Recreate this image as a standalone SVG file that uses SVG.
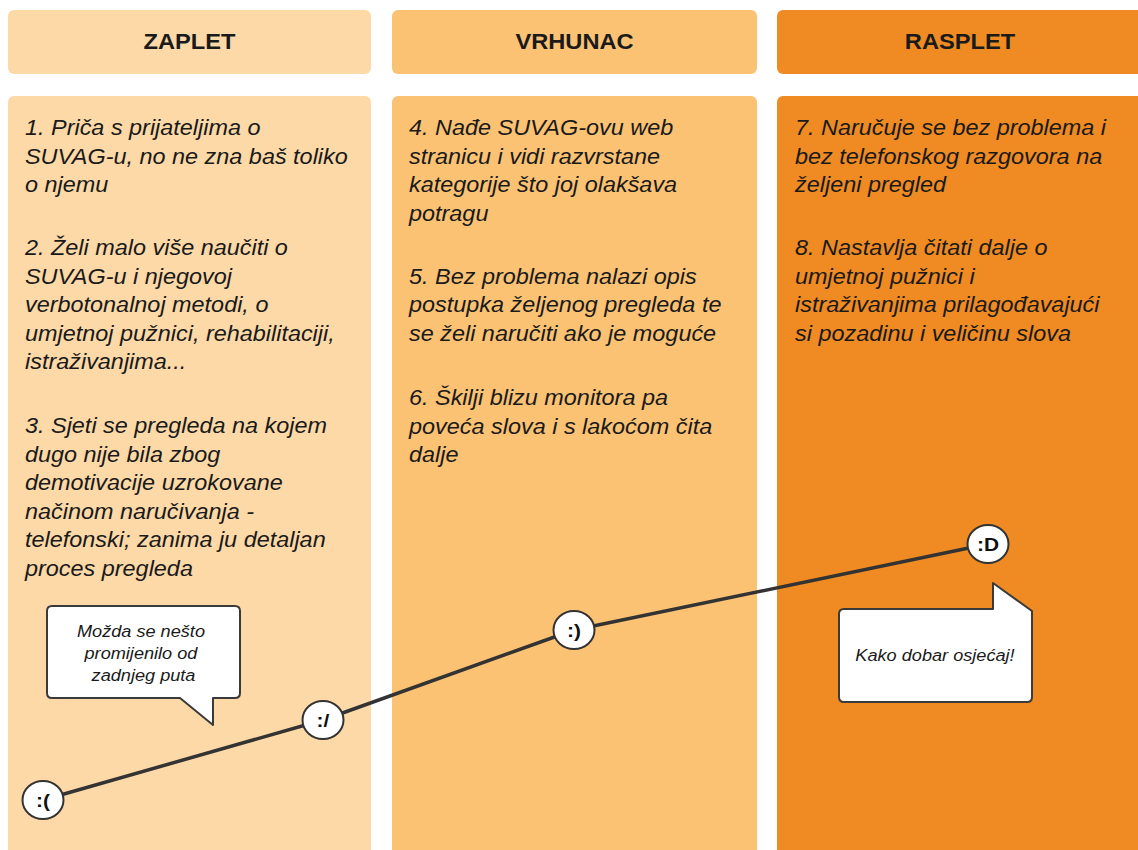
<svg xmlns="http://www.w3.org/2000/svg" width="1138" height="850" viewBox="0 0 1138 850">
<defs>
<style>
.c1{fill:#FDD9A7}
.c2{fill:#FBC274}
.c3{fill:#EF8B22}
.hd{font-family:"Liberation Sans",Arial,sans-serif;font-weight:bold;font-size:21.5px;fill:#1a1a1a;text-anchor:middle}
.bt{font-family:"Liberation Sans",Arial,sans-serif;font-style:italic;font-size:21.3px;fill:#1a1a1a}
.bb{fill:#fff;stroke:#3a3a3a;stroke-width:2;stroke-linejoin:round}
.btx{font-family:"Liberation Sans",Arial,sans-serif;font-style:italic;font-size:16.5px;fill:#1a1a1a;text-anchor:middle}
.em{fill:#fff;stroke:#333;stroke-width:2}
.emt{font-family:"Liberation Sans",Arial,sans-serif;font-weight:bold;font-size:19px;fill:#111;text-anchor:middle}
.ln{fill:none;stroke:#333;stroke-width:3.5;stroke-linejoin:round}
</style>
</defs>
<rect width="1138" height="850" fill="#fff"/>

<g id="header-zaplet">
<rect class="c1" x="8" y="10" width="363" height="64" rx="6"/>
<g transform="translate(189.5 49) scale(1.1 1)"><text class="hd" x="0" y="0">ZAPLET</text></g>
</g>
<g id="header-vrhunac">
<rect class="c2" x="392" y="10" width="365" height="64" rx="6"/>
<g transform="translate(574.5 49) scale(1.1 1)"><text class="hd" x="0" y="0">VRHUNAC</text></g>
</g>
<g id="header-rasplet">
<rect class="c3" x="777" y="10" width="370" height="64" rx="6"/>
<g transform="translate(960 49) scale(1.1 1)"><text class="hd" x="0" y="0">RASPLET</text></g>
</g>

<g id="body-zaplet">
<rect class="c1" x="8" y="96" width="363" height="770" rx="6"/>
<g transform="translate(25 0) scale(1.1 1)">
<text class="bt">
<tspan x="0" y="135">1. Priča s prijateljima o</tspan>
<tspan x="0" y="163.6">SUVAG-u, no ne zna baš toliko</tspan>
<tspan x="0" y="192.2">o njemu</tspan>
<tspan x="0" y="255">2. Želi malo više naučiti o</tspan>
<tspan x="0" y="283.6">SUVAG-u i njegovoj</tspan>
<tspan x="0" y="312.2">verbotonalnoj metodi, o</tspan>
<tspan x="0" y="340.8">umjetnoj pužnici, rehabilitaciji,</tspan>
<tspan x="0" y="369.4">istraživanjima...</tspan>
<tspan x="0" y="433">3. Sjeti se pregleda na kojem</tspan>
<tspan x="0" y="461.6">dugo nije bila zbog</tspan>
<tspan x="0" y="490.2">demotivacije uzrokovane</tspan>
<tspan x="0" y="518.8">načinom naručivanja -</tspan>
<tspan x="0" y="547.4">telefonski; zanima ju detaljan</tspan>
<tspan x="0" y="576">proces pregleda</tspan>
</text>
</g>
</g>
<g id="body-vrhunac">
<rect class="c2" x="392" y="96" width="365" height="770" rx="6"/>
<g transform="translate(409 0) scale(1.1 1)">
<text class="bt">
<tspan x="0" y="135">4. Nađe SUVAG-ovu web</tspan>
<tspan x="0" y="163.6">stranicu i vidi razvrstane</tspan>
<tspan x="0" y="192.2">kategorije što joj olakšava</tspan>
<tspan x="0" y="220.8">potragu</tspan>
<tspan x="0" y="283.6">5. Bez problema nalazi opis</tspan>
<tspan x="0" y="312.2">postupka željenog pregleda te</tspan>
<tspan x="0" y="340.8">se želi naručiti ako je moguće</tspan>
<tspan x="0" y="405">6. Škilji blizu monitora pa</tspan>
<tspan x="0" y="433.6">poveća slova i s lakoćom čita</tspan>
<tspan x="0" y="462.2">dalje</tspan>
</text>
</g>
</g>
<g id="body-rasplet">
<rect class="c3" x="777" y="96" width="370" height="770" rx="6"/>
<g transform="translate(795 0) scale(1.1 1)">
<text class="bt">
<tspan x="0" y="135">7. Naručuje se bez problema i</tspan>
<tspan x="0" y="163.6">bez telefonskog razgovora na</tspan>
<tspan x="0" y="192.2">željeni pregled</tspan>
<tspan x="0" y="255">8. Nastavlja čitati dalje o</tspan>
<tspan x="0" y="283.6">umjetnoj pužnici i</tspan>
<tspan x="0" y="312.2">istraživanjima prilagođavajući</tspan>
<tspan x="0" y="340.8">si pozadinu i veličinu slova</tspan>
</text>
</g>
</g>

<g id="connectors">
<polyline class="ln" points="43,800 323,720 574,630 988,544"/>
</g>

<g id="mood-1">
<ellipse class="em" cx="43" cy="800" rx="20.5" ry="19"/>
<g transform="translate(43 807) scale(1.1 1)"><text class="emt" x="0" y="0">:(</text></g>
</g>
<g id="mood-2">
<ellipse class="em" cx="323" cy="720" rx="20.5" ry="19"/>
<g transform="translate(323 727) scale(1.1 1)"><text class="emt" x="0" y="0">:/</text></g>
</g>
<g id="mood-3">
<ellipse class="em" cx="574" cy="630" rx="20.5" ry="19"/>
<g transform="translate(574 637) scale(1.1 1)"><text class="emt" x="0" y="0">:)</text></g>
</g>
<g id="mood-4">
<ellipse class="em" cx="988" cy="544" rx="20.5" ry="19"/>
<g transform="translate(988 551) scale(1.1 1)"><text class="emt" x="0" y="0">:D</text></g>
</g>

<g id="bubble-1">
<path class="bb" d="M52,606 H235 Q240,606 240,611 V693 Q240,698 235,698 H213 V725 L180,698 H52 Q47,698 47,693 V611 Q47,606 52,606 Z"/>
<g transform="translate(143.5 0) scale(1.1 1)">
<text class="btx">
<tspan x="0" y="637">Možda se nešto</tspan>
<tspan x="0" y="659">promijenilo od</tspan>
<tspan x="0" y="681">zadnjeg puta</tspan>
</text>
</g>
</g>
<g id="bubble-2">
<path class="bb" d="M844,609 H993 V583 L1032,611 V697 Q1032,702 1027,702 H844 Q839,702 839,697 V614 Q839,609 844,609 Z"/>
<g transform="translate(935 661) scale(1.1 1)"><text class="btx" x="0" y="0">Kako dobar osjećaj!</text></g>
</g>
</svg>
